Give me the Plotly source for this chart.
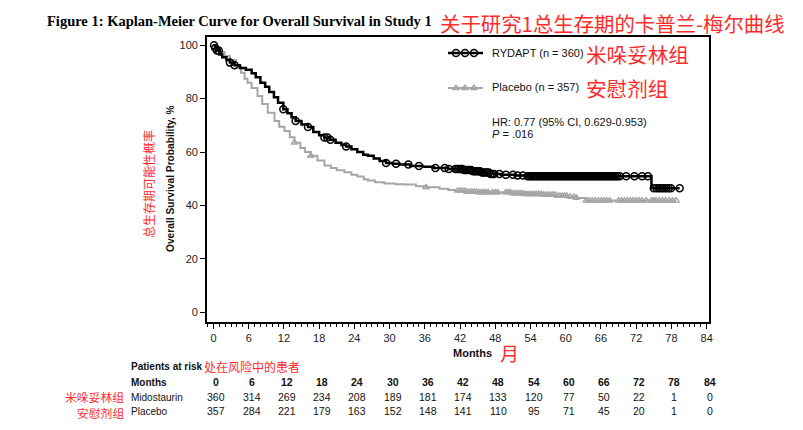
import plotly.graph_objects as go

# ---------------- data ----------------
rydapt_t = [0, 0.3, 0.6, 1.0, 1.5, 2.2, 2.8, 3.6, 4.5, 5.5, 6.5, 7.2, 8.0, 8.8, 9.5, 10.3, 11.0, 11.9,
            12.6, 13.3, 14.0, 15.0, 16.1, 17.0, 18.0, 18.9, 19.8, 20.8, 21.8, 22.6, 23.5, 24.5, 25.5,
            26.3, 27.3, 28.3, 29.4, 30.5, 31.7, 33.5, 35.7, 37.5, 40.0, 42.5, 44.0, 45.5, 47.0, 49.0,
            51.5, 53.5, 74.6, 79.4]
rydapt_s = [100, 99, 98, 96.5, 95.5, 94.5, 93.5, 92.5, 91.5, 90.8, 89.5, 88, 86, 84.5, 82.5, 80.5, 78.5, 76,
            74.5, 73, 71.6, 70.3, 69.4, 67.5, 66.3, 65.4, 64.6, 63.5, 62.6, 62.1, 61.0, 60.0, 59.0,
            58.6, 57.6, 56.6, 55.9, 55.6, 55.3, 54.8, 54.5, 54.0, 53.6, 53.3, 52.8, 52.3, 51.8, 51.5,
            51.2, 50.9, 46.4, 46.4]

placebo_t = [0, 0.5, 1.0, 1.9, 2.8, 3.8, 4.7, 5.3, 5.8, 6.5, 7.5, 8.3, 9.25, 10.4, 11.2, 12.1, 13.0, 13.8,
             14.8, 15.6, 16.6, 17.7, 18.9, 20.0, 21.0, 22.3, 23.5, 24.5, 25.6, 26.3, 27.5, 29.1, 31.0,
             32.5, 34.5, 36.2, 38.5, 40.0, 41.3, 43.0, 45.0, 51.0, 53.0, 56.1, 58.5, 60.5, 61.8, 63.5, 78.8]
placebo_s = [100, 99, 97.5, 96, 94.5, 92, 89.7, 87.5, 86, 84, 81, 78, 74.7, 71.6, 69.5, 67.9, 65.5, 63.5,
             61.5, 60, 58.6, 56.8, 54.9, 54.0, 53.2, 52.4, 51.5, 50.8, 49.8, 49.3, 48.7, 48.2, 47.9,
             47.8, 47.2, 46.8, 46.2, 45.8, 45.5, 45.1, 44.9, 44.5, 44.2, 44.0, 43.6, 43.2, 42.8, 41.8, 41.8]

rydapt_censor = [0.1, 0.3, 0.6, 0.9, 2.8, 3.6, 11.9, 14.0, 16.1, 18.9, 19.4, 19.9, 22.6, 29.4, 31.1, 33.2,
                 35.0, 37.8, 39.4, 40.1, 41.2, 41.5, 41.8, 42.1, 42.4, 42.7, 43.0, 43.3, 43.6, 43.9, 44.2,
                 44.5, 44.8, 45.1, 45.4, 45.7, 46.0, 46.3, 46.6, 46.9, 47.2, 47.5, 47.8, 48.7, 49.8, 51.0,
                 51.8, 52.7, 53.5, 53.8, 54.1, 54.4, 54.7, 55.0, 55.3, 55.6, 55.9, 56.2, 56.5, 56.8, 57.1,
                 57.4, 57.7, 58.0, 58.3, 58.6, 58.9, 59.2, 59.5, 59.8, 60.1, 60.4, 60.7, 61.0, 61.3, 61.6,
                 61.9, 62.2, 62.5, 62.8, 63.1, 63.4, 63.7, 64.0, 64.3, 64.6, 64.9, 65.2, 65.5, 65.8, 66.1,
                 66.4, 66.7, 67.0, 67.3, 67.6, 67.9, 68.2, 68.5, 68.8, 69.2, 70.3, 71.7, 73.0, 74.0, 75.0,
                 75.5, 75.9, 76.3, 76.7, 77.1, 77.5, 77.9, 79.4]
placebo_censor = [13.8, 16.6, 36.2, 41.6, 42.0, 42.4, 42.8, 43.2, 43.6, 44.0, 44.4, 44.8, 45.2, 45.6, 46.0,
                  46.4, 46.8, 47.5, 48.0, 48.4, 49.8, 50.2, 50.6, 51.0, 51.4, 51.8, 52.2, 52.6, 53.0, 53.4,
                  53.8, 54.2, 54.6, 55.0, 55.4, 55.8, 56.2, 56.6, 57.0, 57.4, 57.8, 58.2, 58.6, 59.0, 59.4,
                  59.8, 60.2, 60.8, 61.4, 61.8, 63.5, 64.0, 64.5, 65.0, 65.5, 66.0, 66.5, 67.0, 67.5, 69.0,
                  69.5, 70.0, 70.5, 71.0, 71.5, 72.0, 72.5, 73.0, 73.7, 74.6, 75.0, 75.4, 76.0, 76.5, 77.0,
                  77.6, 78.2, 78.8]

risk_months = [0, 6, 12, 18, 24, 30, 36, 42, 48, 54, 60, 66, 72, 78, 84]
risk_mido = [360, 314, 269, 234, 208, 189, 181, 174, 133, 120, 77, 50, 22, 1, 0]
risk_plac = [357, 284, 221, 179, 163, 152, 148, 141, 110, 95, 71, 45, 20, 1, 0]

y_ticks = [0, 20, 40, 60, 80, 100]
x_ticks = risk_months

# ---------------- layout helpers ----------------
PAGE_W, PAGE_H = 803, 430
BODY = 8                      # default page margin of the html body
W, H = PAGE_W - BODY, PAGE_H - BODY
L, R, T, B = 207, 709, 37, 322   # plot frame, in page pixels
RED = "#ff2b2b"
SANS = "Liberation Sans, Arial, sans-serif"
CJK = "Noto Sans CJK SC, sans-serif"


def px(x):
    return (x - L) / (R - L)


def py(y):
    return (B - y) / (B - T)


def step_at(ts, ss, t):
    val = ss[0]
    for ti, si in zip(ts, ss):
        if ti <= t:
            val = si
    return val


fig = go.Figure()

fig.add_trace(go.Scatter(x=placebo_t, y=placebo_s, mode="lines", line=dict(color="#a6a6a6", width=2, shape="hv"),
                         showlegend=False, hoverinfo="skip"))
fig.add_trace(go.Scatter(x=placebo_censor, y=[step_at(placebo_t, placebo_s, t) for t in placebo_censor],
                         mode="markers", marker=dict(symbol="triangle-up-open", size=6, color="#a6a6a6",
                                                     line=dict(width=1.3, color="#a6a6a6")),
                         showlegend=False))
fig.add_trace(go.Scatter(x=rydapt_t, y=rydapt_s, mode="lines", line=dict(color="black", width=2.5, shape="hv"),
                         showlegend=False, hoverinfo="skip"))
fig.add_trace(go.Scatter(x=rydapt_censor, y=[step_at(rydapt_t, rydapt_s, t) for t in rydapt_censor],
                         mode="markers", marker=dict(symbol="circle-open", size=7, color="black",
                                                     line=dict(width=1.5, color="black")),
                         showlegend=False))

# legend glyphs on an overlay axis measured in page pixels
fig.add_trace(go.Scatter(x=[448, 483], y=[53, 53], xaxis="x2", yaxis="y2", mode="lines",
                         line=dict(color="black", width=2.5), showlegend=False, hoverinfo="skip"))
fig.add_trace(go.Scatter(x=[456, 465, 474], y=[53, 53, 53], xaxis="x2", yaxis="y2", mode="markers",
                         marker=dict(symbol="circle-open", size=7, color="black", line=dict(width=1.5)),
                         showlegend=False, hoverinfo="skip"))
fig.add_trace(go.Scatter(x=[448, 483], y=[88, 88], xaxis="x2", yaxis="y2", mode="lines",
                         line=dict(color="#a6a6a6", width=2), showlegend=False, hoverinfo="skip"))
fig.add_trace(go.Scatter(x=[456, 465, 474], y=[88, 88, 88], xaxis="x2", yaxis="y2", mode="markers",
                         marker=dict(symbol="triangle-up-open", size=6, color="#a6a6a6", line=dict(width=1.3)),
                         showlegend=False, hoverinfo="skip"))

ann = []


def text(x, y, s, size=11, color="#111", font=SANS, xanchor="left", angle=0):
    ann.append(dict(x=px(x), y=py(y), xref="paper", yref="paper", text=s, showarrow=False,
                    xanchor=xanchor, yanchor="middle", textangle=angle,
                    font=dict(size=size, color=color, family=font)))


text(45, 21, "<b>Figure 1: Kaplan-Meier Curve for Overall Survival in Study 1</b>", size=14.5, color="black",
     font="Liberation Serif, Times New Roman, serif")
text(438, 23, "关于研究1总生存期的卡普兰-梅尔曲线", size=20.4, color=RED, font=CJK)

text(490, 53, "RYDAPT (n = 360)")
text(490, 87, "Placebo (n = 357)")
text(584, 54, "米哚妥林组", size=20.6, color=RED, font=CJK)
text(584, 88, "安慰剂组", size=20.6, color=RED, font=CJK)
text(490, 122, "HR: 0.77 (95% CI, 0.629-0.953)")
text(490, 134, "<i>P</i> = .016")

text(170, 179, "<b>Overall Survival Probability, %</b>", size=10.2, xanchor="center", angle=-90)
text(148, 184, "总生存期可能性概率", size=12, color=RED, font=CJK, xanchor="center", angle=-90)

text(472, 353, "<b>Months</b>", size=11, xanchor="center")
text(498, 353, "月", size=19, color=RED, font=CJK)

text(129, 366, "<b>Patients at risk</b>", size=10)
text(202, 366, "处在风险中的患者", size=12, color=RED, font=CJK)
text(129, 382, "<b>Months</b>", size=10)
text(129, 397, "Midostaurin", size=10)
text(129, 411.5, "Placebo", size=10)
text(126, 396.5, "米哚妥林组", size=11.8, color=RED, font=CJK, xanchor="right")
text(126, 412, "安慰剂组", size=11.8, color=RED, font=CJK, xanchor="right")

for m, a, b in zip(risk_months, risk_mido, risk_plac):
    for row_y, s, bold in ((382, str(m), True), (397, str(a), False), (411.5, str(b), False)):
        ann.append(dict(x=m, y=py(row_y), xref="x", yref="paper", xshift=3,
                        text=f"<b>{s}</b>" if bold else s, showarrow=False, xanchor="center",
                        yanchor="middle", font=dict(size=10.5, color="#111", family=SANS)))

fig.update_layout(
    width=W, height=H,
    margin=dict(l=L - BODY, r=PAGE_W - R, t=T - BODY, b=PAGE_H - B, pad=0),
    paper_bgcolor="white", plot_bgcolor="white",
    showlegend=False,
    annotations=ann,
    xaxis=dict(range=[-1.1, 84.4], tickmode="array", tickvals=x_ticks, ticks="outside", ticklen=5,
               tickwidth=1.2, tickcolor="black", showline=True, linewidth=1.8, linecolor="black",
               mirror=True, showgrid=False, zeroline=False,
               tickfont=dict(size=11, color="#222", family=SANS),
               minor=dict(tickmode="linear", tick0=0, dtick=1, ticks="outside", ticklen=3,
                          tickwidth=1, tickcolor="black", showgrid=False)),
    yaxis=dict(range=[-3.7, 103.1], tickmode="array", tickvals=y_ticks, ticks="outside", ticklen=5,
               tickwidth=1.2, tickcolor="black", showline=True, linewidth=1.8, linecolor="black",
               mirror=True, showgrid=False, zeroline=False,
               tickfont=dict(size=11, color="#222", family=SANS)),
    xaxis2=dict(range=[L, R], overlaying="x", visible=False, fixedrange=True),
    yaxis2=dict(range=[B, T], overlaying="y", visible=False, fixedrange=True),
)

fig.write_html("out.html")
